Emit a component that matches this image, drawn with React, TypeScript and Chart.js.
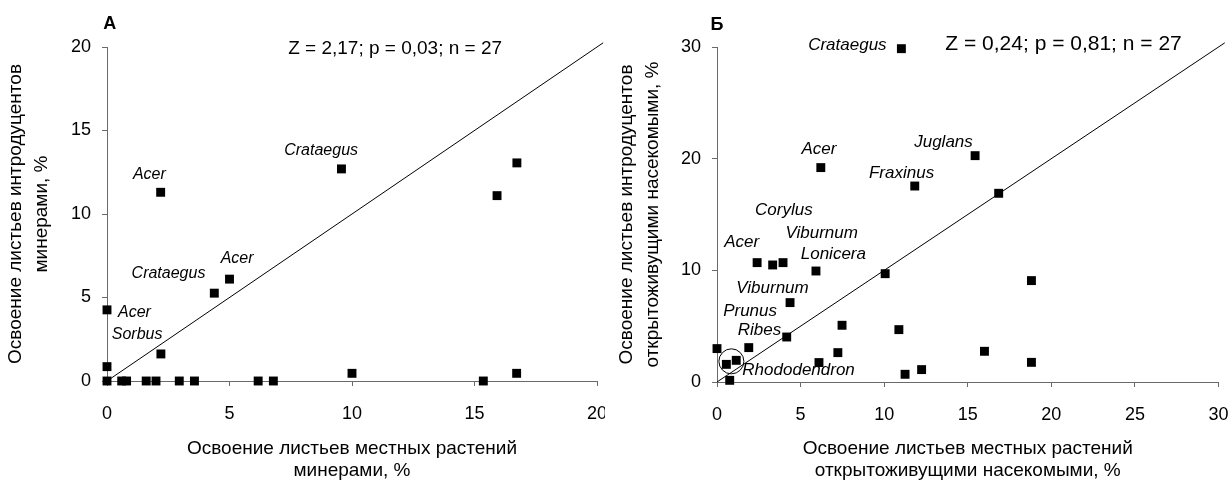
import React, { useEffect, useRef } from 'react';
import { Chart, registerables } from 'chart.js';

Chart.register(...registerables);

const FONT = '"Liberation Sans", Arial, sans-serif';

// ---------- Panel А: leaf miners ----------
const minersNative = [0, 0, 0, 0.6, 0.8, 1.6, 2.0, 2.2, 2.95, 3.57, 4.38, 5.0, 6.17, 6.79, 10.0, 2.19, 9.57, 16.73, 15.92, 15.36, 16.72];
const minersIntroduced = [4.26, 0.86, 0, 0, 0, 0, 0, 1.62, 0, 0, 5.26, 6.1, 0, 0, 0.46, 11.3, 12.7, 13.06, 11.1, 0, 0.46];
const minersLabels = ['Acer', 'Crataegus', 'Acer', 'Crataegus', 'Acer', 'Sorbus'];
const minersLabelX = [1.73, 8.74, 5.31, 2.51, 1.12, 1.23];
const minersLabelY = [12.36, 13.77, 7.36, 6.43, 4.09, 2.76];
const minersStat = 'Z = 2,17; p = 0,03; n = 27';
const minersTicksX = [0, 20, 5];
const minersTicksY = [0, 20, 5];
const minersXTitle = ['Освоение листьев местных растений', 'минерами, %'];
const minersYTitle = ['Освоение листьев интродуцентов', 'минерами, %'];

// ---------- Panel Б: free-living insects ----------
const insectsNative = [11.03, 6.21, 11.83, 15.44, 16.85, 0, 0.56, 1.15, 0.76, 1.9, 2.4, 3.33, 3.95, 5.92, 4.37, 4.17, 6.1, 7.23, 7.48, 10.06, 10.88, 11.25, 12.24, 16.0, 18.81, 18.81];
const insectsIntroduced = [29.85, 19.2, 17.55, 20.27, 16.9, 2.99, 1.58, 1.94, 0.15, 3.08, 10.69, 10.48, 10.69, 9.94, 7.11, 4.03, 1.74, 2.63, 5.08, 9.7, 4.69, 0.69, 1.11, 2.75, 9.08, 1.76];
const insectsLabels = ['Crataegus', 'Acer', 'Juglans', 'Fraxinus', 'Corylus', 'Viburnum', 'Acer', 'Lonicera', 'Viburnum', 'Prunus', 'Ribes', 'Rhododendron'];
const insectsLabelX = [7.8, 6.1, 13.55, 11.04, 4.0, 6.26, 1.48, 6.96, 3.32, 1.98, 2.54, 4.88];
const insectsLabelY = [30.14, 20.82, 21.49, 18.73, 15.37, 13.31, 12.49, 11.46, 8.39, 6.37, 4.66, 1.02];
const insectsCircle = { x: 0.86, y: 1.85 };
const insectsStat = 'Z = 0,24; p = 0,81; n = 27';
const insectsTicksX = [0, 30, 5];
const insectsTicksY = [0, 30, 10];
const insectsXTitle = ['Освоение листьев местных растений', 'открытоживущими насекомыми, %'];
const insectsYTitle = ['Освоение листьев интродуцентов', 'открытоживущими насекомыми, %'];

type TextItem = { text: string; x: number; y: number; font: string };

const textPlugin = (items: TextItem[]) => ({
  id: 'textItems',
  afterDatasetsDraw(chart: any) {
    const { ctx, scales } = chart;
    ctx.save();
    ctx.fillStyle = '#000';
    ctx.textAlign = 'center';
    ctx.textBaseline = 'middle';
    for (const it of items) {
      ctx.font = it.font;
      ctx.fillText(it.text, scales.x.getPixelForValue(it.x), scales.y.getPixelForValue(it.y));
    }
    ctx.restore();
  },
});

const AXIS = '#6a6a6a';

function makeConfig(opts: {
  xs: number[];
  ys: number[];
  ticksX: number[];
  ticksY: number[];
  xTitle: string[];
  yTitle: string[];
  yWidth: number;
  xHeight: number;
  padRight: number;
  yTitlePad: number;
  texts: TextItem[];
  circle?: { x: number; y: number };
}) {
  const points = opts.xs.map((x, i) => ({ x, y: opts.ys[i] }));
  const lineEnd = opts.ticksX[1] * 1.0125;
  const datasets: any[] = [
    {
      data: [{ x: 0, y: 0 }, { x: lineEnd, y: lineEnd }],
      showLine: true,
      pointRadius: 0,
      borderColor: '#000',
      borderWidth: 1,
      clip: false,
    },
    {
      data: points,
      pointStyle: 'rect',
      pointRadius: 6.3,
      pointBackgroundColor: '#000',
      backgroundColor: '#000',
      pointBorderWidth: 0,
      borderWidth: 0,
      clip: false,
    },
  ];
  if (opts.circle) {
    datasets.push({
      data: [opts.circle],
      pointStyle: 'circle',
      pointRadius: 12.5,
      pointBorderWidth: 1,
      pointBorderColor: '#000',
      pointBackgroundColor: 'rgba(0,0,0,0)',
      clip: false,
    });
  }
  return {
    type: 'scatter' as const,
    data: { datasets },
    options: {
      responsive: false,
      animation: false,
      events: [],
      layout: { padding: { left: 0, top: 47, right: opts.padRight, bottom: 0 } },
      plugins: { legend: { display: false }, tooltip: { enabled: false } },
      scales: {
        x: {
          type: 'linear',
          min: opts.ticksX[0],
          max: opts.ticksX[1],
          ticks: { stepSize: opts.ticksX[2], font: { family: FONT, size: 18 }, color: '#000', padding: 17, maxRotation: 0, autoSkip: false },
          grid: { drawOnChartArea: false, drawTicks: true, tickLength: 5, color: AXIS },
          border: { display: true, color: AXIS, width: 1 },
          title: {
            display: true,
            text: opts.xTitle,
            color: '#000',
            font: { family: FONT, size: 19, lineHeight: 1.15 },
            padding: { top: 0, bottom: 1 },
          },
          afterFit(s: any) {
            s.height = opts.xHeight;
            s.paddingLeft = 0;
            s.paddingRight = 0;
          },
        },
        y: {
          type: 'linear',
          min: opts.ticksY[0],
          max: opts.ticksY[1],
          ticks: { stepSize: opts.ticksY[2], font: { family: FONT, size: 18 }, color: '#000', padding: 11 },
          grid: { drawOnChartArea: false, drawTicks: true, tickLength: 5, color: AXIS },
          border: { display: true, color: AXIS, width: 1 },
          title: {
            display: true,
            text: opts.yTitle,
            color: '#000',
            font: { family: FONT, size: 19, lineHeight: 1.35 },
            padding: { top: opts.yTitlePad, bottom: 0 },
          },
          afterFit(s: any) {
            s.width = opts.yWidth;
            s.paddingTop = 0;
            s.paddingBottom = 0;
          },
        },
      },
    },
    plugins: [textPlugin(opts.texts)],
  };
}

export default function App() {
  const leftRef = useRef<HTMLCanvasElement>(null);
  const rightRef = useRef<HTMLCanvasElement>(null);

  useEffect(() => {
    const lf = `italic 16px ${FONT}`;
    const rf = `italic 17px ${FONT}`;
    const leftTexts: TextItem[] = [
      ...minersLabels.map((t, i) => ({ text: t, x: minersLabelX[i], y: minersLabelY[i], font: lf })),
      { text: minersStat, x: 11.76, y: 19.9, font: `19px ${FONT}` },
      { text: 'А', x: 0.11, y: 21.4, font: `bold 18px ${FONT}` },
    ];
    const rightTexts: TextItem[] = [
      ...insectsLabels.map((t, i) => ({ text: t, x: insectsLabelX[i], y: insectsLabelY[i], font: rf })),
      { text: insectsStat, x: 20.73, y: 30.21, font: `21px ${FONT}` },
      { text: 'Б', x: 0, y: 31.93, font: `bold 18px ${FONT}` },
    ];
    const left = new Chart(
      leftRef.current!,
      makeConfig({
        xs: minersNative,
        ys: minersIntroduced,
        ticksX: minersTicksX,
        ticksY: minersTicksY,
        xTitle: minersXTitle,
        yTitle: minersYTitle,
        yWidth: 107,
        xHeight: 102,
        padRight: 8,
        yTitlePad: 3,
        texts: leftTexts,
      }) as any
    );
    const right = new Chart(
      rightRef.current!,
      makeConfig({
        xs: insectsNative,
        ys: insectsIntroduced,
        ticksX: insectsTicksX,
        ticksY: insectsTicksY,
        xTitle: insectsXTitle,
        yTitle: insectsYTitle,
        yWidth: 112,
        xHeight: 101,
        padRight: 12,
        yTitlePad: 9,
        texts: rightTexts,
        circle: insectsCircle,
      }) as any
    );
    return () => {
      left.destroy();
      right.destroy();
    };
  }, []);

  return (
    <div style={{ position: 'absolute', left: 0, top: 0, width: 1232, height: 483, background: '#fff' }}>
      <canvas ref={leftRef} width={605} height={483} style={{ position: 'absolute', left: 0, top: 0, width: 605, height: 483 }} />
      <canvas ref={rightRef} width={627} height={483} style={{ position: 'absolute', left: 605, top: 0, width: 627, height: 483 }} />
    </div>
  );
}
